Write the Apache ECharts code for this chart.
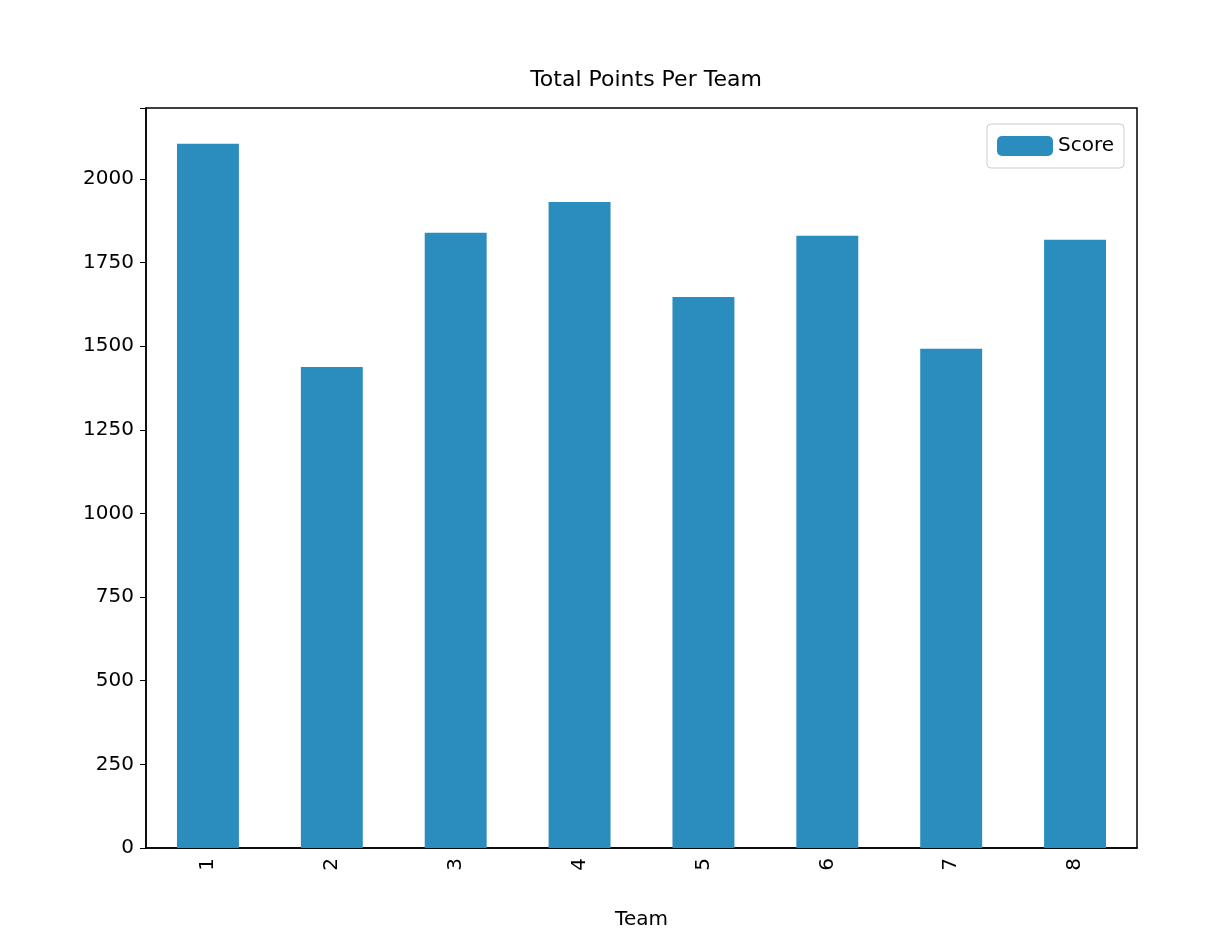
<!DOCTYPE html>
<html>
<head>
<meta charset="utf-8">
<script src="https://cdn.jsdelivr.net/npm/echarts@6/dist/echarts.min.js"></script>
<style>html,body{margin:0;padding:0;background:#fff}#chart{width:1224px;height:942px}</style>
</head>
<body>
<div id="chart"></div>
<script>
const teams = ['1', '2', '3', '4', '5', '6', '7', '8'];
const scores = [2105, 1438, 1839, 1931, 1647, 1830, 1492, 1818];

const chart = echarts.init(document.getElementById('chart'));
const font = 'DejaVu Sans';
chart.setOption({
    animation: false,
    textStyle: { fontFamily: font },
    title: {
        text: 'Total Points Per Team',
        left: 641, top: 64, textAlign: 'center',
        textStyle: { fontFamily: font, fontSize: 22, fontWeight: 'normal', color: '#000' }
    },
    legend: {
        right: 100, top: 124,
        padding: [12, 10],
        borderColor: '#ccc', borderWidth: 1, borderRadius: 4,
        itemWidth: 56, itemHeight: 20,
        textStyle: { fontFamily: font, fontSize: 20, color: '#000' },
        data: ['Score']
    },
    grid: {
        left: 146, right: 87, top: 108, bottom: 94,
        show: true, borderColor: '#000', borderWidth: 1.5
    },
    xAxis: {
        type: 'category',
        data: teams,
        name: 'Team', nameLocation: 'middle', nameGap: 62,
        nameTextStyle: { fontFamily: font, fontSize: 20, color: '#000' },
        axisLine: { lineStyle: { color: '#000', width: 1.5 } },
        axisTick: { alignWithLabel: true, length: 6, lineStyle: { color: '#000' } },
        axisLabel: { rotate: 90, fontSize: 20, color: '#000', margin: 10 }
    },
    yAxis: {
        type: 'value', min: 0, max: 2212, interval: 250,
        splitLine: { show: false },
        axisLine: { show: true, lineStyle: { color: '#000', width: 1.5 } },
        axisTick: { show: true, length: 6, lineStyle: { color: '#000' } },
        axisLabel: {
            fontSize: 20, color: '#000', margin: 12,
            formatter: v => (v % 250 === 0 ? String(v) : '')
        }
    },
    series: [{
        name: 'Score', type: 'bar', data: scores,
        barWidth: '50%',
        itemStyle: { color: '#2b8cbe' }
    }]
});
</script>
</body>
</html>
